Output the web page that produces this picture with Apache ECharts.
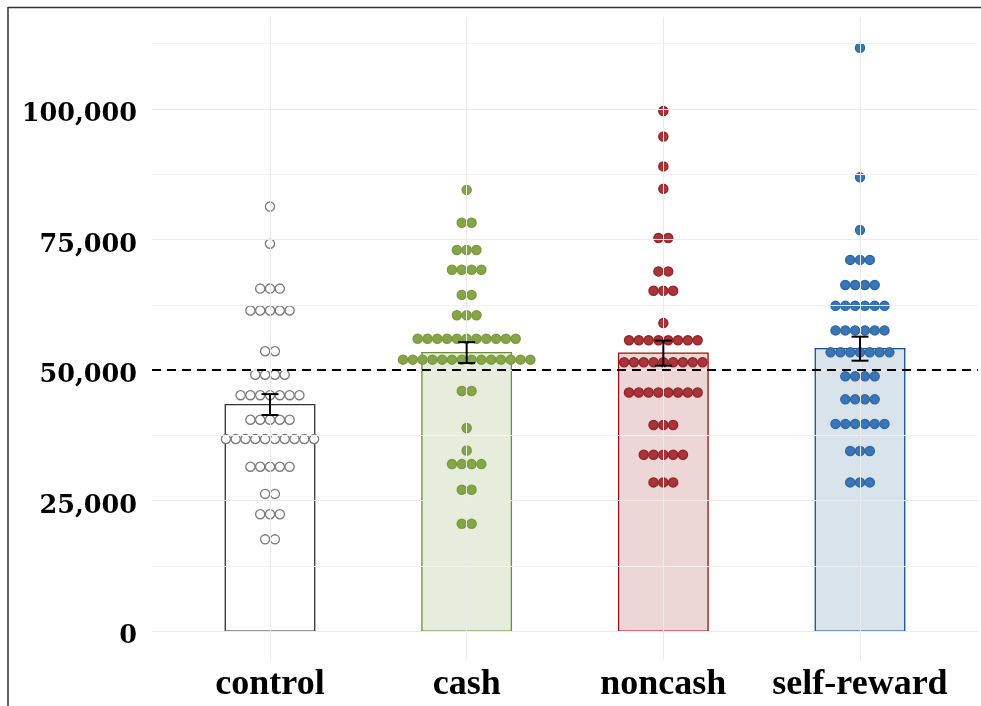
<!DOCTYPE html>
<html>
<head>
<meta charset="utf-8">
<script src="https://cdn.jsdelivr.net/npm/echarts@6/dist/echarts.min.js"></script>
<style>
  html, body { margin: 0; padding: 0; background: #fff; }
  #chart { width: 981px; height: 706px; }
</style>
</head>
<body>
<div id="chart"></div>
<script>
// Groups on the x axis
const categories = ['control', 'cash', 'noncash', 'self-reward'];

// Group means (bar heights) and half-widths of the error bars
const groupMeans = [43400, 53350, 53250, 54100];
const groupErrors = [2000, 2000, 2400, 2300];

// Dot-plot rows per group: [binned value, number of dots in the row]
const controlRows = [
  [81300, 1], [74200, 1], [65600, 3], [61400, 5], [53600, 2], [49100, 4],
  [45200, 7], [40500, 5], [36800, 10], [31500, 5], [26300, 2], [22400, 3], [17600, 2]
];
const cashRows = [
  [84500, 1], [78200, 2], [73000, 3], [69200, 4], [64400, 2], [60500, 3],
  [56000, 11], [52000, 14], [46000, 2], [38900, 1], [34600, 1], [32000, 4],
  [27100, 2], [20600, 2]
];
const noncashRows = [
  [99600, 1], [94700, 1], [89000, 1], [84700, 1], [75300, 2], [68900, 2],
  [65200, 3], [59000, 1], [55700, 8], [51500, 9], [45700, 8], [39500, 3],
  [33800, 5], [28500, 3]
];
const selfRewardRows = [
  [111700, 1], [86900, 1], [76800, 1], [71100, 3], [66300, 4], [62300, 6],
  [57600, 6], [53400, 7], [48800, 4], [44400, 4], [39700, 6], [34500, 3], [28500, 3]
];

// Reference level and y-axis tick labels
const referenceLevel = 50000;
const yTicks = [0, 25000, 50000, 75000, 100000];
const yMinorGrid = [12500, 37500, 62500, 87500, 112500];

// Styling per group
const barFill = ['#ffffff', 'rgba(107,142,35,0.16)', 'rgba(139,0,0,0.16)', 'rgba(16,78,139,0.16)'];
const barStroke = ['#333333', '#6b8e3a', '#9b1111', '#104e8b'];
const dotFill = ['#ffffff', '#87a449', '#a8353a', '#3a76b6'];
const dotStroke = ['#7a7a7a', '#7a9a3c', '#962327', '#2d67a8'];

const DOT_STEP = 9.8;   // horizontal spacing between stacked dots, px

function rowsToPoints(catIdx, rows) {
  const pts = [];
  rows.forEach(([v, n]) => {
    for (let i = 0; i < n; i++) {
      pts.push({ value: [catIdx, v], symbolOffset: [(i - (n - 1) / 2) * DOT_STEP, 0] });
    }
  });
  return pts;
}

const allRows = [controlRows, cashRows, noncashRows, selfRewardRows];

const chart = echarts.init(document.getElementById('chart'), null, { renderer: 'canvas' });

const gridLine = { color: '#ebebeb', width: 1, type: 'solid' };

const series = [];

// Panel gridlines (drawn first, beneath everything)
series.push({
  type: 'line', data: [], silent: true, z: 0,
  markLine: {
    silent: true, symbol: 'none', animation: false, label: { show: false },
    lineStyle: gridLine,
    data: [
      ...yTicks.map(v => ({ yAxis: v })),
      ...yMinorGrid.map(v => ({ yAxis: v, lineStyle: { color: '#f2f2f2', width: 1 } })),
      ...categories.map((c, i) => ({ xAxis: i }))
    ]
  }
});

// Bars for group means
series.push({
  type: 'custom', z: 2, silent: true,
  data: groupMeans.map((m, i) => [i, m]),
  renderItem: function (params, api) {
    const i = api.value(0);
    const top = api.coord([i, api.value(1)]);
    const base = api.coord([i, 0]);
    const w = api.size([0.455, 0])[0];
    return {
      type: 'rect',
      shape: { x: top[0] - w / 2, y: top[1], width: w, height: base[1] - top[1] },
      style: { fill: barFill[i], stroke: barStroke[i], lineWidth: 1.3 }
    };
  }
});

// Dashed reference line
series.push({
  type: 'line', data: [], silent: true, z: 3,
  markLine: {
    silent: true, symbol: 'none', animation: false, label: { show: false },
    lineStyle: { color: '#000', width: 2, type: [9, 6] },
    data: [{ yAxis: referenceLevel }]
  }
});

// Dot plots
allRows.forEach((rows, i) => {
  series.push({
    type: 'scatter', z: 4, silent: true,
    symbol: 'circle', symbolSize: 9.2,
    itemStyle: { color: dotFill[i], borderColor: dotStroke[i], borderWidth: 1.3, opacity: 1 },
    data: rowsToPoints(i, rows)
  });
});

// Error bars
series.push({
  type: 'custom', z: 5, silent: true,
  data: groupMeans.map((m, i) => [i, m - groupErrors[i], m + groupErrors[i]]),
  renderItem: function (params, api) {
    const i = api.value(0);
    const lo = api.coord([i, api.value(1)]);
    const hi = api.coord([i, api.value(2)]);
    const cap = 8.5;
    const style = { stroke: '#000', lineWidth: 2, fill: null };
    return {
      type: 'group',
      children: [
        { type: 'line', shape: { x1: lo[0], y1: lo[1], x2: hi[0], y2: hi[1] }, style },
        { type: 'line', shape: { x1: hi[0] - cap, y1: hi[1], x2: hi[0] + cap, y2: hi[1] }, style },
        { type: 'line', shape: { x1: lo[0] - cap, y1: lo[1], x2: lo[0] + cap, y2: lo[1] }, style }
      ]
    };
  }
});

const option = {
  animation: false,
  backgroundColor: '#ffffff',
  grid: { left: 152, right: 3, top: 17, bottom: 46, containLabel: false },
  xAxis: {
    type: 'value', min: -0.6, max: 3.6,
    axisLine: { show: false },
    splitLine: { show: false },
    axisTick: { show: true, customValues: [0, 1, 2, 3], length: 4, lineStyle: { color: '#333', width: 1 } },
    axisLabel: {
      customValues: [0, 1, 2, 3],
      formatter: v => categories[Math.round(v)] || '',
      fontFamily: 'Liberation Serif', fontWeight: 'bold', fontSize: 36, color: '#000', margin: 7
    }
  },
  yAxis: {
    type: 'value', min: -5500, max: 117600,
    axisLine: { show: false },
    splitLine: { show: false },
    axisTick: { show: true, customValues: yTicks, length: 5, lineStyle: { color: '#333', width: 1 } },
    axisLabel: {
      customValues: yTicks,
      formatter: v => Number(v).toLocaleString('en-US'),
      fontFamily: 'DejaVu Serif', fontWeight: 'bold', fontSize: 25.5, color: '#000', margin: 15,
      verticalAlign: 'top', lineHeight: 11
    }
  },
  graphic: [
    { type: 'line', shape: { x1: 8, y1: 7.5, x2: 981, y2: 7.5 }, style: { stroke: '#333', lineWidth: 1.5 }, silent: true },
    { type: 'line', shape: { x1: 8, y1: 7, x2: 8, y2: 706 }, style: { stroke: '#333', lineWidth: 1.5 }, silent: true }
  ],
  series
};

chart.setOption(option);
</script>
</body>
</html>
